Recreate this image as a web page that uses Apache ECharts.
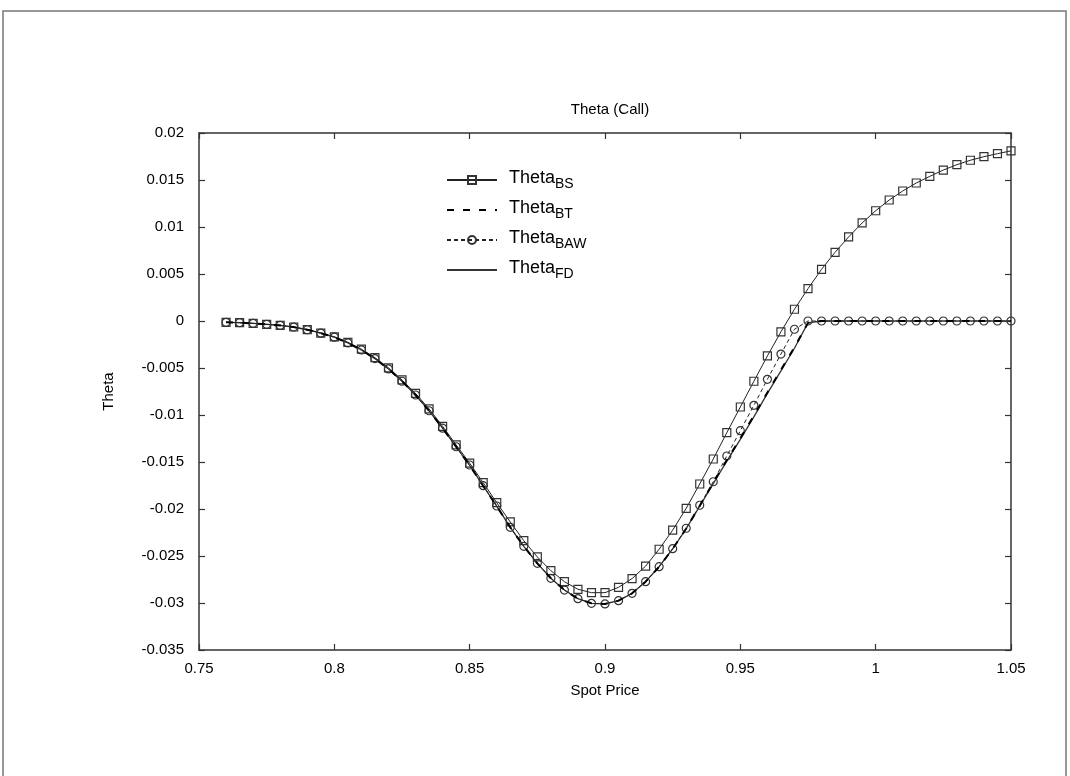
<!DOCTYPE html>
<html>
<head>
<meta charset="utf-8">
<script src="https://cdn.jsdelivr.net/npm/echarts@6/dist/echarts.min.js"></script>
<style>html,body{margin:0;padding:0;background:#fff}#c{width:1070px;height:776px}</style>
</head>
<body>
<div id="c"></div>
<script>
const spot = [0.760,0.765,0.770,0.775,0.780,0.785,0.790,0.795,0.800,0.805,0.810,0.815,0.820,0.825,0.830,0.835,0.840,0.845,0.850,0.855,0.860,0.865,0.870,0.875,0.880,0.885,0.890,0.895,0.900,0.905,0.910,0.915,0.920,0.925,0.930,0.935,0.940,0.945,0.950,0.955,0.960,0.965,0.970,0.975,0.980,0.985,0.990,0.995,1.000,1.005,1.010,1.015,1.020,1.025,1.030,1.035,1.040,1.045,1.050];

const thetaBS = [-0.00014,-0.00018,-0.00025,-0.00035,-0.00046,-0.00064,-0.00091,-0.00128,-0.00168,-0.00227,-0.00300,-0.00390,-0.00498,-0.00627,-0.00770,-0.00935,-0.01120,-0.01318,-0.01512,-0.01720,-0.01933,-0.02138,-0.02337,-0.02510,-0.02656,-0.02773,-0.02854,-0.02890,-0.02890,-0.02833,-0.02740,-0.02608,-0.02428,-0.02225,-0.01993,-0.01734,-0.01468,-0.01188,-0.00915,-0.00641,-0.00372,-0.00115,0.00125,0.00344,0.00550,0.00731,0.00894,0.01043,0.01173,0.01287,0.01383,0.01468,0.01539,0.01606,0.01663,0.01710,0.01748,0.01780,0.01810];

const thetaBT = [-0.00014,-0.00018,-0.00025,-0.00035,-0.00047,-0.00065,-0.00093,-0.00130,-0.00172,-0.00233,-0.00308,-0.00400,-0.00510,-0.00641,-0.00787,-0.00955,-0.01140,-0.01338,-0.01535,-0.01755,-0.01970,-0.02195,-0.02397,-0.02578,-0.02737,-0.02862,-0.02954,-0.03003,-0.03010,-0.02975,-0.02897,-0.02773,-0.02614,-0.02424,-0.02208,-0.01966,-0.01722,-0.01480,-0.01248,-0.01008,-0.00760,-0.00520,-0.00280,-0.00020,0,0,0,0,0,0,0,0,0,0,0,0,0,0,0];

const thetaBAW = [-0.00014,-0.00018,-0.00025,-0.00035,-0.00047,-0.00065,-0.00093,-0.00130,-0.00172,-0.00233,-0.00308,-0.00400,-0.00510,-0.00641,-0.00787,-0.00955,-0.01140,-0.01338,-0.01532,-0.01752,-0.01968,-0.02195,-0.02397,-0.02578,-0.02737,-0.02862,-0.02954,-0.03003,-0.03010,-0.02975,-0.02897,-0.02773,-0.02614,-0.02422,-0.02205,-0.01960,-0.01710,-0.01436,-0.01167,-0.00897,-0.00620,-0.00352,-0.00088,0,0,0,0,0,0,0,0,0,0,0,0,0,0,0,0];

const thetaFD = [-0.00014,-0.00018,-0.00025,-0.00035,-0.00047,-0.00065,-0.00093,-0.00130,-0.00172,-0.00233,-0.00308,-0.00400,-0.00510,-0.00641,-0.00787,-0.00955,-0.01140,-0.01338,-0.01535,-0.01755,-0.01970,-0.02195,-0.02397,-0.02578,-0.02737,-0.02862,-0.02954,-0.03003,-0.03010,-0.02975,-0.02897,-0.02773,-0.02614,-0.02424,-0.02210,-0.01970,-0.01730,-0.01490,-0.01260,-0.01020,-0.00770,-0.00530,-0.00290,-0.00020,0,0,0,0,0,0,0,0,0,0,0,0,0,0,0];

const seriesNames = ['BS','BT','BAW','FD'];
const xTicks = {min:0.75, max:1.05, interval:0.05};
const yTicks = {min:-0.035, max:0.02, interval:0.005};

function pairs(ys){ return spot.map((x,i)=>[x, ys[i]]); }

const chart = echarts.init(document.getElementById('c'), null, {renderer:'canvas'});
const font = 'Liberation Sans, Arial, Helvetica, sans-serif';
const axisCommon = {
  axisLine:{show:true, onZero:false, lineStyle:{color:'#333', width:1.5}},
  axisTick:{show:true, inside:true, length:6, lineStyle:{color:'#333', width:1.2}},
  splitLine:{show:false}
};
const hidden = {color:'rgba(0,0,0,0)', borderWidth:0};
chart.setOption({
  animation:false,
  backgroundColor:'#fff',
  textStyle:{fontFamily:font},
  graphic:[{type:'rect', shape:{x:3, y:11, width:1063, height:800}, style:{fill:'none', stroke:'#777', lineWidth:1.5}, silent:true}],
  title:{text:'Theta (Call)', left:605, top:97, textAlign:'center',
    textStyle:{fontFamily:font, fontSize:15, fontWeight:'normal', color:'#000'}},
  grid:{left:199, right:59, top:133, bottom:126},
  legend:{
    orient:'vertical', left:441, top:163, itemWidth:50, itemHeight:10, itemGap:7,
    data:seriesNames.map(n=>'Theta'+n),
    formatter:function(name){ return '{a|Theta}{b|'+name.slice(5)+'}'; },
    textStyle:{fontFamily:font, color:'#000',
      rich:{a:{fontSize:18, fontFamily:font, color:'#000', lineHeight:22, verticalAlign:'top', padding:[0,0,0,7]},
            b:{fontSize:14, fontFamily:font, color:'#000', lineHeight:18, padding:[9,0,0,0], verticalAlign:'bottom'}}}
  },
  xAxis:[
    Object.assign({type:'value', position:'bottom', min:xTicks.min, max:xTicks.max, interval:xTicks.interval,
      name:'Spot Price', nameLocation:'middle', nameGap:33,
      nameTextStyle:{fontFamily:font, fontSize:15, color:'#000'},
      axisLabel:{fontFamily:font, fontSize:15, color:'#000', margin:11}}, axisCommon),
    Object.assign({type:'value', position:'top', min:xTicks.min, max:xTicks.max, interval:xTicks.interval,
      axisLabel:{show:false}}, axisCommon)
  ],
  yAxis:[
    Object.assign({type:'value', position:'left', min:yTicks.min, max:yTicks.max, interval:yTicks.interval,
      name:'Theta', nameLocation:'middle', nameGap:83, nameRotate:90,
      nameTextStyle:{fontFamily:font, fontSize:15, color:'#000'},
      axisLabel:{fontFamily:font, fontSize:15, color:'#000', margin:15}}, axisCommon),
    Object.assign({type:'value', position:'right', min:yTicks.min, max:yTicks.max, interval:yTicks.interval,
      axisLabel:{show:false}}, axisCommon)
  ],
  series:[
    {name:'ThetaBS', type:'line', data:pairs(thetaBS), symbol:'rect', symbolSize:8, showSymbol:true,
      lineStyle:{color:'#222', width:1}, itemStyle:{color:'rgba(255,255,255,0)', borderColor:'#333', borderWidth:1.2}, z:3},
    {name:'ThetaBT', type:'line', data:pairs(thetaBT), symbol:'circle', showSymbol:false, symbolSize:0,
      lineStyle:{color:'#000', width:2, type:[7,9]}, itemStyle:hidden, z:4},
    {name:'ThetaBAW', type:'line', data:pairs(thetaBAW), symbol:'circle', symbolSize:8, showSymbol:true,
      lineStyle:{color:'#222', width:1, type:[4,3]}, itemStyle:{color:'rgba(255,255,255,0)', borderColor:'#333', borderWidth:1.2}, z:3},
    {name:'ThetaFD', type:'line', data:pairs(thetaFD), symbol:'circle', showSymbol:false, symbolSize:0,
      lineStyle:{color:'#333', width:1.3}, itemStyle:hidden, z:2}
  ]
});
</script>
</body>
</html>
